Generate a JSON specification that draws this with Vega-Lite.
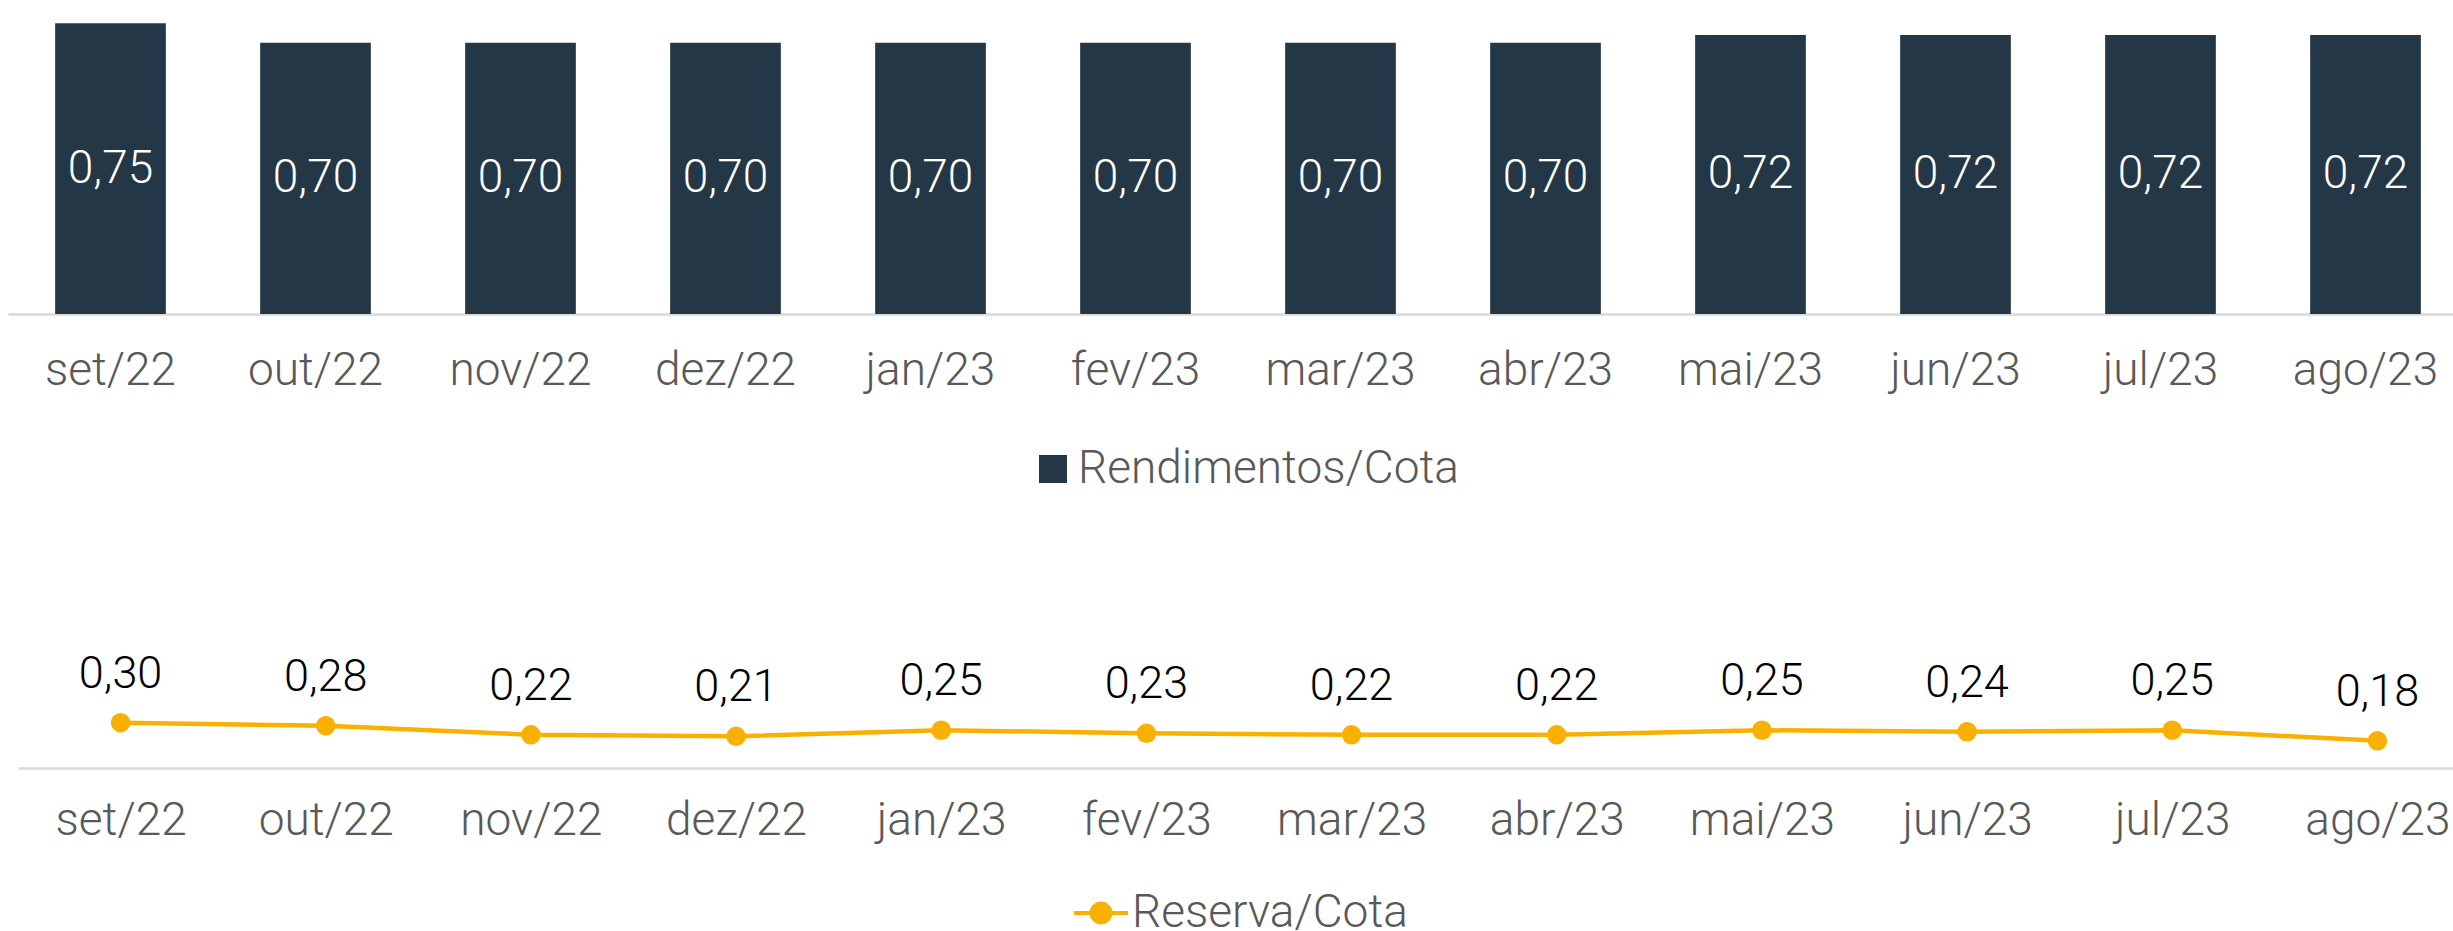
{
  "$schema": "https://vega.github.io/schema/vega-lite/v6.json",
  "padding": {"left": 8, "top": 0, "right": 0, "bottom": 0},
  "background": "white",
  "bounds": "flush",
  "spacing": 303,
  "config": {
    "view": {"stroke": null},
    "font": "Roboto",
    "locale": {"number": {"decimal": ",", "thousands": ".", "grouping": [3], "currency": ["R$", ""]}},
    "axis": {"labelFont": "Roboto", "labelFontWeight": 300},
    "legend": {"labelFont": "Roboto", "labelFontWeight": 300},
    "text": {"font": "Roboto", "fontWeight": 300}
  },
  "resolve": {"scale": {"color": "independent"}, "legend": {"color": "independent"}},
  "vconcat": [
    {
      "width": 2460,
      "height": 314,
      "data": {"values": [
        {"mes": "set/22", "v": 0.75},
        {"mes": "out/22", "v": 0.70},
        {"mes": "nov/22", "v": 0.70},
        {"mes": "dez/22", "v": 0.70},
        {"mes": "jan/23", "v": 0.70},
        {"mes": "fev/23", "v": 0.70},
        {"mes": "mar/23", "v": 0.70},
        {"mes": "abr/23", "v": 0.70},
        {"mes": "mai/23", "v": 0.72},
        {"mes": "jun/23", "v": 0.72},
        {"mes": "jul/23", "v": 0.72},
        {"mes": "ago/23", "v": 0.72}
      ]},
      "layer": [
        {
          "mark": {"type": "bar"},
          "encoding": {
            "x": {"field": "mes", "type": "ordinal", "sort": null,
                  "scale": {"paddingInner": 0.46, "paddingOuter": 0.23},
                  "axis": {"title": null, "ticks": false, "labelAngle": 0, "labelFontSize": 46, "labelColor": "#595959", "labelPadding": 34, "domainColor": "#D9D9D9", "domainWidth": 2.5, "grid": false}},
            "y": {"field": "v", "type": "quantitative", "scale": {"domain": [0, 0.81]}, "axis": null},
            "color": {"datum": "Rendimentos/Cota", "scale": {"range": ["#243746"]},
                      "legend": {"orient": "none", "legendX": 1022, "legendY": 446, "title": null, "symbolType": "square", "symbolSize": 784, "symbolStrokeWidth": 0, "labelFontSize": 46, "labelColor": "#595959", "labelOffset": 2, "padding": 0, "labelLimit": 1000}}
          }
        },
        {
          "mark": {"type": "text", "color": "white", "fontSize": 46, "baseline": "middle"},
          "encoding": {
            "x": {"field": "mes", "type": "ordinal", "sort": null},
            "y": {"field": "v", "type": "quantitative", "scale": {"domain": [0, 1.62]}, "axis": null},
            "text": {"field": "v", "type": "quantitative", "format": ".2f"}
          }
        }
      ],
      "resolve": {"scale": {"y": "independent"}}
    },
    {
      "width": 2472,
      "height": 151,
      "data": {"values": [
        {"mes": "set/22", "v": 0.30},
        {"mes": "out/22", "v": 0.28},
        {"mes": "nov/22", "v": 0.22},
        {"mes": "dez/22", "v": 0.21},
        {"mes": "jan/23", "v": 0.25},
        {"mes": "fev/23", "v": 0.23},
        {"mes": "mar/23", "v": 0.22},
        {"mes": "abr/23", "v": 0.22},
        {"mes": "mai/23", "v": 0.25},
        {"mes": "jun/23", "v": 0.24},
        {"mes": "jul/23", "v": 0.25},
        {"mes": "ago/23", "v": 0.18}
      ]},
      "layer": [
        {
          "mark": {"type": "line", "strokeWidth": 4.5, "point": {"size": 380, "filled": true}},
          "encoding": {
            "x": {"field": "mes", "type": "ordinal", "sort": null,
                  "scale": {"type": "point", "padding": 0.5, "range": [10, 2472]},
                  "axis": {"title": null, "ticks": false, "labelAngle": 0, "labelFontSize": 46, "labelColor": "#595959", "labelPadding": 30, "domainColor": "#D9D9D9", "domainWidth": 2.5, "grid": false}},
            "y": {"field": "v", "type": "quantitative", "scale": {"domain": [0, 1]}, "axis": null},
            "color": {"datum": "Reserva/Cota", "scale": {"range": ["#F9B000"]},
                      "legend": {"orient": "none", "legendX": 1064, "legendY": 267, "title": null,
                                 "symbolType": "M-1,0L-0.3,0M0.3,0L1,0M0.35,0A0.35,0.35,0,1,1,-0.35,0A0.35,0.35,0,1,1,0.35,0Z",
                                 "symbolSize": 2916, "labelFontSize": 46, "labelColor": "#595959", "labelOffset": 2, "padding": 0, "labelLimit": 1000,
                                 "encode": {"symbols": {"update": {"fill": {"value": "#F9B000"}, "stroke": {"value": "#F9B000"}, "strokeWidth": {"value": 4}, "opacity": {"value": 1}}}}}}
          }
        },
        {
          "mark": {"type": "text", "color": "#000000", "fontSize": 45, "baseline": "alphabetic", "dy": -35},
          "encoding": {
            "x": {"field": "mes", "type": "ordinal", "sort": null},
            "y": {"field": "v", "type": "quantitative"},
            "text": {"field": "v", "type": "quantitative", "format": ".2f"}
          }
        }
      ]
    }
  ]
}
